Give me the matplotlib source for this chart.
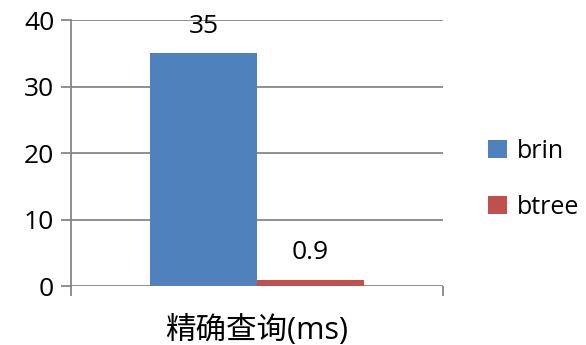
import numpy as np
import matplotlib.pyplot as plt

plt.rcParams['font.family'] = ['Open Sans', 'Noto Sans CJK SC', 'DejaVu Sans']

category = '精确查询(ms)'
series = ['brin', 'btree']
values = [35, 0.9]
labels = ['35', '0.9']
colors = ['#4F81BD', '#C0504D']
yticks = [0, 10, 20, 30, 40]

fig = plt.figure(figsize=(5.86, 3.45), dpi=100)
ax = fig.add_axes([0.121, 0.171, 0.635, 0.771])

width = 0.287
offsets = [-width / 2, width / 2]
for name, val, lab, col, off in zip(series, values, labels, colors, offsets):
    ax.bar(off, val, width=width, color=col, label=name, zorder=3)
    ax.text(off, val + 2.2, lab, ha='center', va='bottom', fontsize=19, zorder=4)

grid = '#868686'
ax.set_xlim(-0.5, 0.5)
ax.set_ylim(0, 40)
ax.set_yticks(yticks)
ax.grid(axis='y', color=grid, linewidth=1.3, zorder=0)
ax.tick_params(axis='y', length=7, width=1.3, color=grid, labelsize=19, pad=5)
ax.set_xticks([-0.5, 0.5])
ax.set_xticklabels(['', ''])
ax.tick_params(axis='x', length=7, width=1.3, color=grid)
ax.set_xlabel(category, fontsize=22, labelpad=10)
for s in ['top', 'right', 'bottom']:
    ax.spines[s].set_visible(False)
ax.spines['left'].set_color(grid)
ax.spines['left'].set_linewidth(1.3)

fig.legend(loc='center left', bbox_to_anchor=(0.833, 0.48), frameon=False,
           fontsize=18, handlelength=0.75, handleheight=0.75, handletextpad=0.4,
           labelspacing=1.25, borderpad=0, borderaxespad=0)

fig.savefig('out.png', dpi=100)
